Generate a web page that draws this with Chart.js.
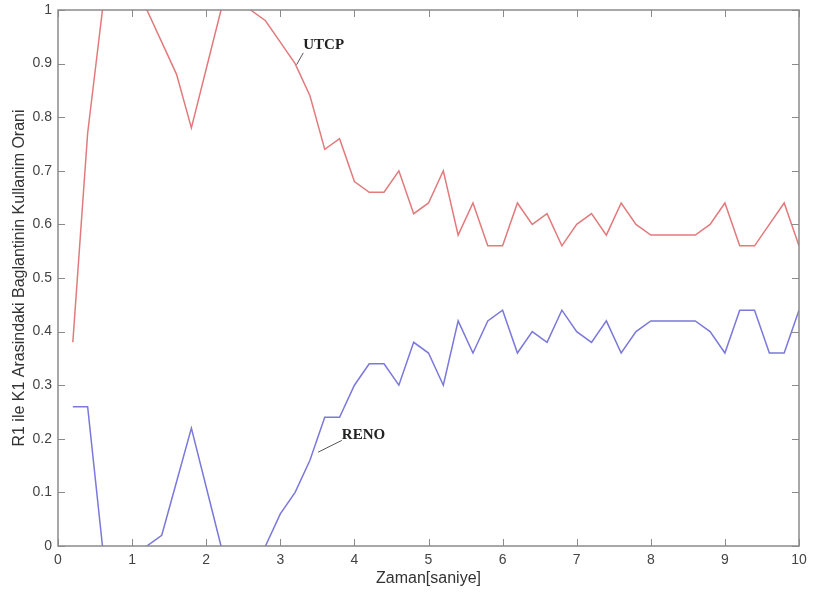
<!DOCTYPE html>
<html>
<head>
<meta charset="utf-8">
<script src="https://cdn.jsdelivr.net/npm/chart.js@4/dist/chart.umd.min.js"></script>
<style>
  html, body { margin: 0; padding: 0; background: #fff; }
  #wrap { width: 814px; height: 596px; }
</style>
</head>
<body>
<div id="wrap"><canvas id="chart" width="814" height="596"></canvas></div>
<script>
// sample times (s)
const times = [0.2, 0.4, 0.6, 0.8, 1.0, 1.2, 1.4, 1.6, 1.8, 2.0,
               2.2, 2.4, 2.6, 2.8, 3.0, 3.2, 3.4, 3.6, 3.8, 4.0,
               4.2, 4.4, 4.6, 4.8, 5.0, 5.2, 5.4, 5.6, 5.8, 6.0,
               6.2, 6.4, 6.6, 6.8, 7.0, 7.2, 7.4, 7.6, 7.8, 8.0,
               8.2, 8.4, 8.6, 8.8, 9.0, 9.2, 9.4, 9.6, 9.8, 10.0];

const utcp = [0.38, 0.77, 1.00, 1.06, 1.06, 1.00, 0.94, 0.88, 0.78, 0.89,
              1.00, 1.04, 1.00, 0.98, 0.94, 0.90, 0.84, 0.74, 0.76, 0.68,
              0.66, 0.66, 0.70, 0.62, 0.64, 0.70, 0.58, 0.64, 0.56, 0.56,
              0.64, 0.60, 0.62, 0.56, 0.60, 0.62, 0.58, 0.64, 0.60, 0.58,
              0.58, 0.58, 0.58, 0.60, 0.64, 0.56, 0.56, 0.60, 0.64, 0.56];

const reno = [0.26, 0.26, 0.00, -0.06, -0.06, 0.00, 0.02, 0.12, 0.22, 0.11,
              0.00, -0.04, -0.04, 0.00, 0.06, 0.10, 0.16, 0.24, 0.24, 0.30,
              0.34, 0.34, 0.30, 0.38, 0.36, 0.30, 0.42, 0.36, 0.42, 0.44,
              0.36, 0.40, 0.38, 0.44, 0.40, 0.38, 0.42, 0.36, 0.40, 0.42,
              0.42, 0.42, 0.42, 0.40, 0.36, 0.44, 0.44, 0.36, 0.36, 0.44];

// curve labels with leader lines, in data coordinates
const labels = [
    { text: 'UTCP', at: [3.31, 0.935], from: [3.31, 0.92], to: [3.22, 0.898] },
    { text: 'RENO', at: [3.83, 0.207], from: [3.83, 0.197], to: [3.51, 0.175] }
];

function toPoints(ys) {
    return times.map((t, i) => ({ x: t, y: ys[i] }));
}

// MATLAB-like box with inward ticks on all four sides
const boxPlugin = {
    id: 'box',
    afterDraw(chart) {
        const ctx = chart.ctx;
        const a = chart.chartArea;
        const xs = chart.scales.x;
        const ys = chart.scales.y;
        const len = 7;
        ctx.save();
        ctx.strokeStyle = '#8a8a8a';
        ctx.lineWidth = 1.5;
        ctx.strokeRect(a.left, a.top, a.right - a.left, a.bottom - a.top);
        ctx.lineWidth = 1;
        ctx.beginPath();
        xs.ticks.forEach(t => {
            const px = Math.round(xs.getPixelForValue(t.value)) + 0.5;
            ctx.moveTo(px, a.bottom); ctx.lineTo(px, a.bottom - len);
            ctx.moveTo(px, a.top); ctx.lineTo(px, a.top + len);
        });
        ys.ticks.forEach(t => {
            const py = Math.round(ys.getPixelForValue(t.value)) + 0.5;
            ctx.moveTo(a.left, py); ctx.lineTo(a.left + len, py);
            ctx.moveTo(a.right, py); ctx.lineTo(a.right - len, py);
        });
        ctx.stroke();

        // curve labels
        ctx.font = 'bold 15px "Liberation Serif", "DejaVu Serif", serif';
        ctx.textBaseline = 'middle';
        ctx.textAlign = 'left';
        labels.forEach(l => {
            ctx.strokeStyle = '#555';
            ctx.lineWidth = 1;
            ctx.beginPath();
            ctx.moveTo(xs.getPixelForValue(l.from[0]), ys.getPixelForValue(l.from[1]));
            ctx.lineTo(xs.getPixelForValue(l.to[0]), ys.getPixelForValue(l.to[1]));
            ctx.stroke();
            ctx.fillStyle = '#222';
            ctx.fillText(l.text, xs.getPixelForValue(l.at[0]), ys.getPixelForValue(l.at[1]));
        });
        ctx.restore();
    }
};

const tickFont = { family: '"Liberation Sans", Arial, sans-serif', size: 14 };
const titleFont = { family: '"Liberation Sans", Arial, sans-serif', size: 16 };

new Chart(document.getElementById('chart'), {
    type: 'line',
    data: {
        datasets: [
            {
                label: 'UTCP',
                data: toPoints(utcp),
                borderColor: '#e27a7c',
                borderWidth: 1.5,
                pointRadius: 0,
                tension: 0,
                clip: 0
            },
            {
                label: 'RENO',
                data: toPoints(reno),
                borderColor: '#7b78dc',
                borderWidth: 1.5,
                pointRadius: 0,
                tension: 0,
                clip: 0
            }
        ]
    },
    options: {
        responsive: false,
        animation: false,
        layout: { padding: { top: 10, right: 15, left: 10, bottom: 8 } },
        plugins: {
            legend: { display: false },
            tooltip: { enabled: false }
        },
        scales: {
            x: {
                type: 'linear',
                min: 0,
                max: 10,
                grid: { display: false, drawTicks: false },
                border: { display: false },
                ticks: { stepSize: 1, color: '#444', font: tickFont, padding: 6, maxRotation: 0 },
                title: {
                    display: true,
                    text: 'Zaman[saniye]',
                    color: '#333',
                    font: titleFont,
                    padding: { top: 0, bottom: 0 }
                },
                afterFit(scale) { scale.height = 42; }
            },
            y: {
                min: 0,
                max: 1,
                grid: { display: false, drawTicks: false },
                border: { display: false },
                ticks: {
                    stepSize: 0.1,
                    color: '#444',
                    font: tickFont,
                    padding: 6,
                    callback: v => String(+v.toFixed(1))
                },
                title: {
                    display: true,
                    text: 'R1 ile K1 Arasindaki Baglantinin Kullanim Orani',
                    color: '#333',
                    font: titleFont,
                    padding: { top: 0, bottom: 0 }
                },
                afterFit(scale) {
                    scale.width = 48;
                    scale.paddingTop = 0;
                    scale.paddingBottom = 0;
                }
            }
        }
    },
    plugins: [boxPlugin]
});
</script>
</body>
</html>
